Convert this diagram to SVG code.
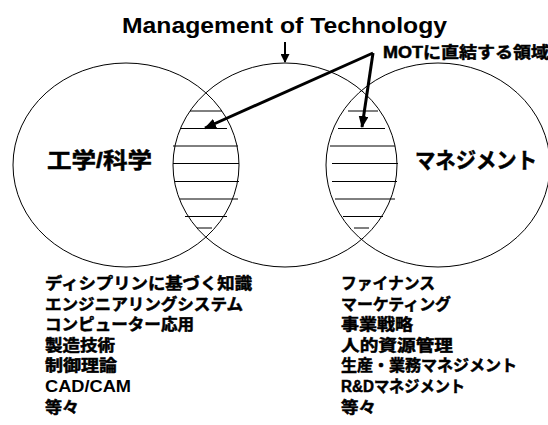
<svg xmlns="http://www.w3.org/2000/svg" width="548" height="425" viewBox="0 0 548 425">
<style>
.c{fill:none;stroke:#000;stroke-width:1}
.t{font-family:"Liberation Sans","Noto Sans CJK JP",sans-serif;font-weight:bold;fill:#000}
.k{stroke:#000;stroke-width:0.5}
.h{stroke:#000;stroke-width:1}
.a{stroke:#000;stroke-width:3;fill:none}
.l{font-size:16px}
</style>
<defs>
<marker id="ah" markerUnits="userSpaceOnUse" viewBox="0 0 12 10" refX="11" refY="5" markerWidth="12" markerHeight="10" orient="auto">
<path d="M0,0 L12,5 L0,10 Z" fill="#000"/>
</marker>
<marker id="as" markerUnits="userSpaceOnUse" viewBox="0 0 9 9" refX="8" refY="4.5" markerWidth="9" markerHeight="9" orient="auto">
<path d="M0,0 L9,4.5 L0,9 Z" fill="#000"/>
</marker>
</defs>
<rect width="548" height="425" fill="#fff"/>
<g id="title">
<text class="t" x="122" y="33" font-size="22" textLength="325" lengthAdjust="spacingAndGlyphs">Management of Technology</text>
</g>
<g id="mot-label">
<text class="t k" x="383" y="58" font-size="16" stroke-width="0.3" textLength="166" lengthAdjust="spacingAndGlyphs">MOTに直結する領域</text>
</g>
<g id="engineering">
<ellipse class="c" cx="126" cy="165" rx="113" ry="102"/>
<text class="t k" x="47" y="168" font-size="22" textLength="105" lengthAdjust="spacingAndGlyphs">工学/科学</text>
</g>
<g id="mot">
<ellipse class="c" cx="285" cy="165" rx="112" ry="102"/>
</g>
<g id="management">
<ellipse class="c" cx="438" cy="165" rx="112" ry="102"/>
<text class="t k" x="415" y="168" font-size="22" textLength="122" lengthAdjust="spacingAndGlyphs">マネジメント</text>
</g>
<g id="lens-left">
<line class="h" x1="190" y1="111" x2="222" y2="111"/>
<line class="h" x1="180" y1="128.5" x2="227" y2="128.5"/>
<line class="h" x1="173" y1="146" x2="238" y2="146"/>
<line class="h" x1="173" y1="163.5" x2="239" y2="163.5"/>
<line class="h" x1="175" y1="181.5" x2="239" y2="181.5"/>
<line class="h" x1="180" y1="199" x2="238" y2="199"/>
<line class="h" x1="185" y1="216.5" x2="227" y2="216.5"/>
<line class="h" x1="197" y1="228" x2="212" y2="228"/>
</g>
<g id="lens-right">
<line class="h" x1="348" y1="111" x2="378" y2="111"/>
<line class="h" x1="338" y1="128.5" x2="385" y2="128.5"/>
<line class="h" x1="330" y1="146" x2="395" y2="146"/>
<line class="h" x1="332" y1="163.5" x2="398" y2="163.5"/>
<line class="h" x1="332" y1="181.5" x2="397" y2="181.5"/>
<line class="h" x1="335" y1="199" x2="395" y2="199"/>
<line class="h" x1="343" y1="216.5" x2="383" y2="216.5"/>
<line class="h" x1="354" y1="228" x2="369" y2="228"/>
</g>
<g id="connectors">
<line stroke="#000" stroke-width="2" x1="285" y1="42" x2="285" y2="62" marker-end="url(#as)"/>
<line class="a" x1="373" y1="53" x2="205" y2="128" marker-end="url(#ah)"/>
<line class="a" x1="373" y1="53" x2="362" y2="127" marker-end="url(#ah)"/>
</g>
<g id="list-left" class="t l k" stroke-width="0.4">
<text x="45" y="289" textLength="207" lengthAdjust="spacingAndGlyphs">ディシプリンに基づく知識</text>
<text x="45" y="310" textLength="198" lengthAdjust="spacingAndGlyphs">エンジニアリングシステム</text>
<text x="45" y="330" textLength="149" lengthAdjust="spacingAndGlyphs">コンピューター応用</text>
<text x="45" y="351" textLength="70" lengthAdjust="spacingAndGlyphs">製造技術</text>
<text x="45" y="371" textLength="72" lengthAdjust="spacingAndGlyphs">制御理論</text>
<text x="45" y="392" textLength="86" lengthAdjust="spacingAndGlyphs" stroke-width="0">CAD/CAM</text>
<text x="45" y="413" textLength="34" lengthAdjust="spacingAndGlyphs">等々</text>
</g>
<g id="list-right" class="t l k" stroke-width="0.4">
<text x="341" y="289" textLength="94" lengthAdjust="spacingAndGlyphs">ファイナンス</text>
<text x="341" y="310" textLength="110" lengthAdjust="spacingAndGlyphs">マーケティング</text>
<text x="341" y="330" textLength="72" lengthAdjust="spacingAndGlyphs">事業戦略</text>
<text x="341" y="351" textLength="112" lengthAdjust="spacingAndGlyphs">人的資源管理</text>
<text x="341" y="371" textLength="176" lengthAdjust="spacingAndGlyphs">生産・業務マネジメント</text>
<text x="341" y="392" textLength="124" lengthAdjust="spacingAndGlyphs">R&amp;Dマネジメント</text>
<text x="341" y="413" textLength="35" lengthAdjust="spacingAndGlyphs">等々</text>
</g>
</svg>
